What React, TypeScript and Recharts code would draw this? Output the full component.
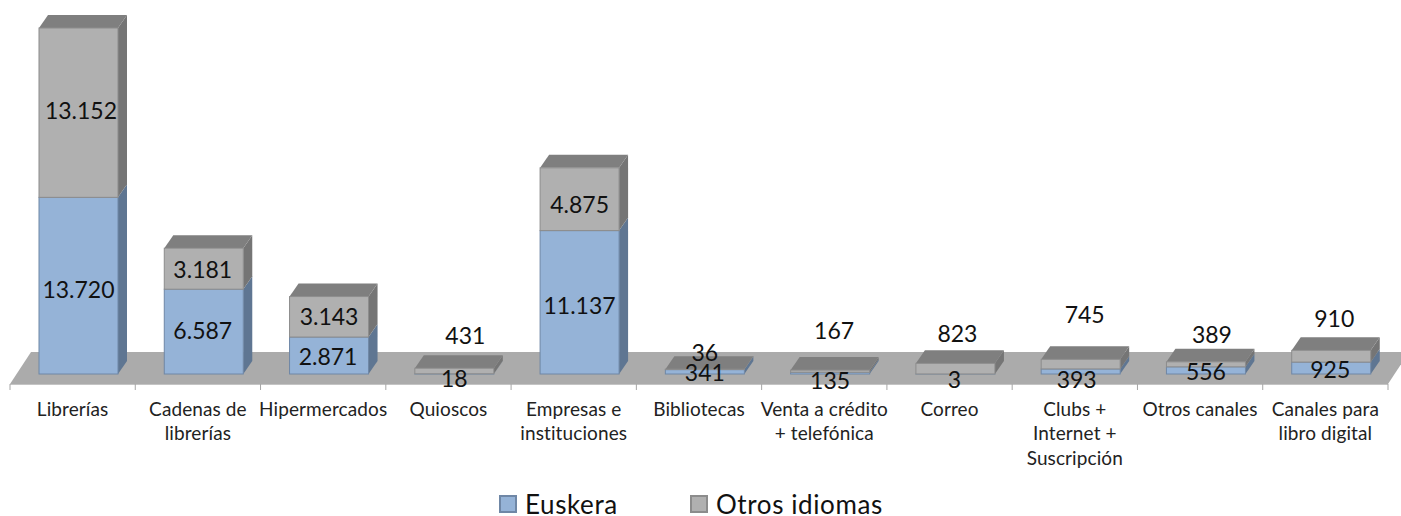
import { BarChart, Bar, XAxis, YAxis, Legend, LabelList, usePlotArea } from 'recharts';

const categories = [
  'Librerías',
  'Cadenas de\nlibrerías',
  'Hipermercados',
  'Quioscos',
  'Empresas e\ninstituciones',
  'Bibliotecas',
  'Venta a crédito\n+ telefónica',
  'Correo',
  'Clubs +\nInternet +\nSuscripción',
  'Otros canales',
  'Canales para\nlibro digital',
];
const euskera = [13720, 6587, 2871, 18, 11137, 341, 135, 3, 393, 556, 925];
const otros = [13152, 3181, 3143, 431, 4875, 36, 167, 823, 745, 389, 910];

// los rótulos estaban movidos a mano en el original
const euskeraNudge = [[0, 3.5], [-1, -1.5], [-1, 0.5], [0, 4], [0, 3], [0, 0], [0, 7], [-1, 5], [-4, 7.5], [0, 0.6], [-1, 1]];
const otrosNudge = [[2.5, -2.5], [-1, 0], [0, -1], [11, -36], [0, 5], [0, -17], [4, -41], [2, -36], [4, -50], [6, -30], [3, -38]];

const data = categories.map((name, i) => ({ name, euskera: euskera[i], otros: otros[i] }));

const FONT = 'Lato, sans-serif';
const SHIFT = 6; // las barras van en mitad del suelo 3D
const DX = 9;
const DY = 13;

const fmt = (v: number) => String(v).replace(/\B(?=(\d{3})+$)/g, '.');

const Floor = () => {
  const plot = usePlotArea();
  if (!plot) return null;
  const base = plot.y + plot.height;
  const left = plot.x;
  const right = plot.x + plot.width;
  const step = plot.width / categories.length;
  return (
    <g>
      <polygon
        points={`${left},${base + 10} ${left + 21},${base - 22} ${right + 21},${base - 22} ${right},${base + 10}`}
        fill="#ababab"
      />
      <line x1={left} x2={right} y1={base + 10.5} y2={base + 10.5} stroke="#c4c4c4" strokeWidth={1} />
      {[...categories, ''].map((_, i) => (
        <line
          key={i}
          x1={left + step * i}
          x2={left + step * i}
          y1={base + 10}
          y2={base + 16}
          stroke="#a6a6a6"
          strokeWidth={1}
        />
      ))}
    </g>
  );
};

const cuboid = (front: string, side: string, border: string, top?: string) => (props: any) => {
  const { width: w, y, height: h } = props;
  const x = props.x + SHIFT;
  return (
    <g>
      <polygon
        points={`${x + w},${y} ${x + w + DX},${y - DY} ${x + w + DX},${y + h - DY} ${x + w},${y + h}`}
        fill={side}
      />
      {top && (
        <polygon points={`${x},${y} ${x + DX},${y - DY} ${x + w + DX},${y - DY} ${x + w},${y}`} fill={top} />
      )}
      <rect x={x} y={y} width={w} height={h} fill={front} stroke={border} strokeWidth={1} />
    </g>
  );
};

const dataLabel = (nudge: number[][]) => (props: any) => {
  const { x, y, width, height, value, index } = props;
  return (
    <text
      x={x + SHIFT + width / 2 + nudge[index][0]}
      y={y + height / 2 + nudge[index][1]}
      textAnchor="middle"
      dominantBaseline="central"
      fontFamily={FONT}
      fontSize={23}
      fill="#111"
    >
      {fmt(value)}
    </text>
  );
};

const CategoryTick = ({ x, payload }: any) => (
  <text textAnchor="middle" fontFamily={FONT} fontSize={19} letterSpacing={0.1} fill="#222">
    {String(payload.value)
      .split('\n')
      .map((line, i) => (
        <tspan key={i} x={x} y={415.5 + i * 24.5}>
          {line}
        </tspan>
      ))}
  </text>
);

const LegendBox = ({ payload }: any) => (
  <div style={{ position: 'relative', height: 28, fontFamily: FONT, fontSize: 26, color: '#111' }}>
    {(payload || []).map((p: any, i: number) => (
      <div
        key={p.value}
        style={{
          position: 'absolute',
          left: i === 0 ? 499 : 690,
          top: 2,
          width: i === 0 ? 180 : 210,
          display: 'flex',
          alignItems: 'center',
          whiteSpace: 'nowrap',
          letterSpacing: 0.6,
        }}
      >
        <span
          style={{
            display: 'inline-block',
            width: 14,
            height: 14,
            marginRight: 8,
            background: p.color,
            border: `2px solid ${i === 0 ? '#6f87a6' : '#8c8c8c'}`,
          }}
        />
        {p.value}
      </div>
    ))}
  </div>
);

export default function App() {
  return (
    <div style={{ position: 'absolute', left: 0, top: 0, width: 1401, height: 516 }}>
      <BarChart
        width={1401}
        height={516}
        data={data}
        margin={{ top: 26.35, right: 13, bottom: 0, left: 10 }}
        barSize={79}
      >
        <Floor />
        <XAxis
          dataKey="name"
          axisLine={false}
          tickLine={false}
          interval={0}
          height={112}
          tick={<CategoryTick />}
        />
        <YAxis hide domain={[0, 27000]} />
        <Legend
          content={<LegendBox />}
          wrapperStyle={{ position: 'absolute', left: 0, top: 486, width: 1401, height: 30 }}
        />
        <Bar
          dataKey="euskera"
          name="Euskera"
          stackId="a"
          fill="#95b3d7"
          isAnimationActive={false}
          shape={cuboid('#95b3d7', '#5f7692', '#6f87a6')}
        >
          <LabelList dataKey="euskera" content={dataLabel(euskeraNudge)} />
        </Bar>
        <Bar
          dataKey="otros"
          name="Otros idiomas"
          stackId="a"
          fill="#b0b0b0"
          isAnimationActive={false}
          shape={cuboid('#b0b0b0', '#757575', '#8c8c8c', '#7f7f7f')}
        >
          <LabelList dataKey="otros" content={dataLabel(otrosNudge)} />
        </Bar>
      </BarChart>
    </div>
  );
}
